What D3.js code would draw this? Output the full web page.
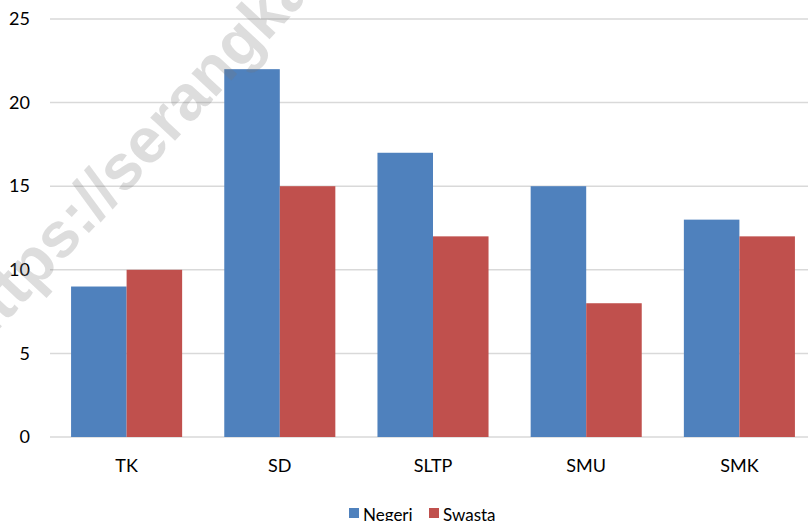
<!DOCTYPE html>
<html>
<head>
<meta charset="utf-8">
<script src="https://cdn.jsdelivr.net/npm/d3@7/dist/d3.min.js"></script>
<style>
  body { margin: 0; background: #fff; }
  svg text { font-family: Lato, "Open Sans", sans-serif; fill: #000; }
</style>
</head>
<body>
<div id="chart"></div>
<script>
const categories = ['TK', 'SD', 'SLTP', 'SMU', 'SMK'];
const seriesNames = ['Negeri', 'Swasta'];
const negeri = [9, 22, 17, 15, 13];
const swasta = [10, 15, 12, 8, 12];
const yTicks = [0, 5, 10, 15, 20, 25];
const colors = ['#4F81BD', '#C0504D'];

const w = 808;
const h = 521;
const plotLeft = 50;
const plotTop = 19;
const plotBottom = 437;

const dataset = categories.map((c, i) => ({ cat: c, values: [negeri[i], swasta[i]] }));

const svg = d3.select('#chart')
              .append('svg')
              .attr('width', w)
              .attr('height', h);

// plot area runs past the right edge of the picture
const xScale = d3.scaleBand()
                 .domain(categories)
                 .range([plotLeft, 816]);
const step = xScale.bandwidth();
const xInner = d3.scaleBand()
                 .domain(seriesNames)
                 .range([step * 0.1375, step * 0.8625]);
const yScale = d3.scaleLinear()
                 .domain([0, 25])
                 .range([plotBottom, plotTop]);

// gridlines
svg.append('g')
   .selectAll('line')
   .data(yTicks)
   .enter()
   .append('line')
   .attr('x1', plotLeft)
   .attr('x2', w)
   .attr('y1', d => yScale(d))
   .attr('y2', d => yScale(d))
   .attr('stroke', '#d9d9d9')
   .attr('stroke-width', 1.5);

// bars
const groups = svg.append('g')
                  .selectAll('g')
                  .data(dataset)
                  .enter()
                  .append('g')
                  .attr('transform', d => 'translate(' + xScale(d.cat) + ',0)');

groups.selectAll('rect')
      .data(d => d.values.map((v, i) => ({ name: seriesNames[i], value: v, i: i })))
      .enter()
      .append('rect')
      .attr('x', d => xInner(d.name))
      .attr('width', xInner.bandwidth())
      .attr('y', d => yScale(d.value))
      .attr('height', d => plotBottom - yScale(d.value))
      .attr('fill', d => colors[d.i]);

// y axis labels
const yAxis = d3.axisLeft(yScale).tickValues(yTicks).tickSize(0).tickPadding(20);
svg.append('g')
   .attr('id', 'y-axis')
   .attr('transform', 'translate(' + plotLeft + ',0)')
   .call(yAxis)
   .call(g => g.select('.domain').remove())
   .selectAll('text')
   .attr('font-size', 18)
   .style('font-family', 'Lato, sans-serif');

// x axis labels
const xAxis = d3.axisBottom(xScale).tickSize(0).tickPadding(22);
svg.append('g')
   .attr('id', 'x-axis')
   .attr('transform', 'translate(0,' + plotBottom + ')')
   .call(xAxis)
   .call(g => g.select('.domain').remove())
   .selectAll('text')
   .attr('font-size', 18)
   .style('font-family', 'Lato, sans-serif');

// legend
const legend = svg.append('g').attr('transform', 'translate(349,508)');
const legendX = [0, 80];
seriesNames.forEach((name, i) => {
  legend.append('rect')
        .attr('x', legendX[i])
        .attr('y', 0)
        .attr('width', 10)
        .attr('height', 10)
        .attr('fill', colors[i]);
  legend.append('text')
        .attr('x', legendX[i] + 14)
        .attr('y', 13)
        .attr('font-size', 17)
        .text(name);
});

// watermark
svg.append('text')
   .attr('transform', 'translate(-22,352) rotate(-47)')
   .attr('font-size', 64)
   .attr('font-weight', 'bold')
   .style('font-family', '"Liberation Sans", sans-serif')
   .style('fill', 'rgba(120,120,120,0.25)')
   .text('https://serangkaian.com');
</script>
</body>
</html>
